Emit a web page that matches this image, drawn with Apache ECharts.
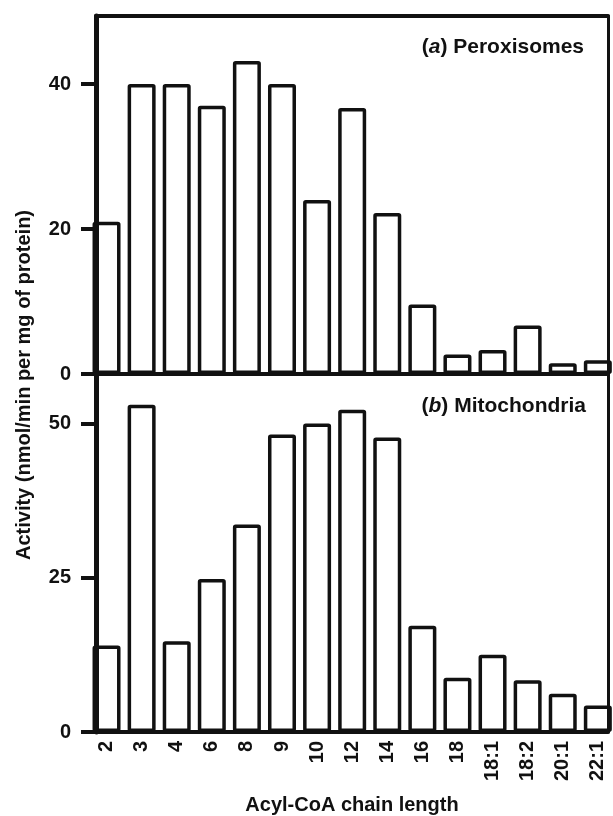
<!DOCTYPE html>
<html>
<head>
<meta charset="utf-8">
<script src="https://cdn.jsdelivr.net/npm/echarts@6/dist/echarts.min.js"></script>
<style>
  html, body { margin: 0; padding: 0; background: #fff; }
  #chart { width: 613px; height: 816px; }
</style>
</head>
<body>
<div id="chart"></div>
<script>
// chain lengths on the x axis
const chainLengths = ["2", "3", "4", "6", "8", "9", "10", "12", "14", "16", "18", "18:1", "18:2", "20:1", "22:1"];

// (a) peroxisomes, nmol/min per mg of protein
const peroxisomes = [21, 40, 40, 37, 43.2, 40, 24, 36.7, 22.2, 9.6, 2.7, 3.3, 6.7, 1.5, 1.9];

// (b) mitochondria, nmol/min per mg of protein
const mitochondria = [14, 53, 14.7, 24.8, 33.6, 48.2, 50, 52.2, 47.7, 17.2, 8.8, 12.5, 8.4, 6.2, 4.3];

const ticksA = [0, 20, 40];
const ticksB = [0, 25, 50];

const FONT = "Liberation Sans";
const INK = "#111";

const chart = echarts.init(document.getElementById("chart"), null, { renderer: "canvas" });

const idx = chainLengths.map((_, i) => i);

// plain line used to close the frame (top / right sides)
function frameAxis(gridIndex, position, isX) {
  return {
    gridIndex: gridIndex,
    position: position,
    type: "value",
    min: isX ? -0.3 : 0,
    max: isX ? 14.29 : 1,
    z: 5,
    axisLine: { show: true, onZero: false, lineStyle: { color: INK, width: isX ? 4 : 3 } },
    axisTick: { show: false },
    axisLabel: { show: false },
    splitLine: { show: false }
  };
}

function panelTitle(letter, name, top, right) {
  return {
    text: "({i|" + letter + "}) " + name,
    right: right,
    top: top,
    textStyle: {
      fontFamily: FONT, fontSize: 21, fontWeight: "bold", color: INK,
      rich: { i: { fontFamily: FONT, fontSize: 21, fontStyle: "italic", fontWeight: "bold", color: INK } }
    }
  };
}

function valueAxis(gridIndex, max, ticks) {
  return {
    gridIndex: gridIndex,
    type: "value",
    min: 0,
    max: max,
    z: 5,
    axisLine: { show: true, onZero: false, lineStyle: { color: INK, width: 5 } },
    axisTick: { show: true, customValues: ticks, length: 15, lineStyle: { color: INK, width: 4 } },
    axisLabel: {
      customValues: ticks,
      margin: 25,
      fontFamily: FONT, fontSize: 20, fontWeight: "bold", color: INK
    },
    splitLine: { show: false }
  };
}

const option = {
  backgroundColor: "#fff",
  animation: false,
  textStyle: { fontFamily: FONT, color: INK },
  title: [
    panelTitle("a", "Peroxisomes", 32, 24),
    panelTitle("b", "Mitochondria", 391, 22)
  ],
  graphic: [
    {
      type: "text",
      x: 24,
      y: 385,
      rotation: Math.PI / 2,
      style: {
        text: "Activity (nmol/min per mg of protein)",
        font: "bold 20px " + FONT,
        fill: INK,
        align: "center",
        verticalAlign: "middle"
      }
    }
  ],
  grid: [
    { left: 96, right: 5, top: 16, height: 358 },
    { left: 96, right: 5, top: 374, height: 360 }
  ],
  xAxis: [
    {
      gridIndex: 0,
      type: "value",
      min: -0.3,
      max: 14.29,
      z: 5,
      axisLine: { show: true, onZero: false, lineStyle: { color: INK, width: 4 } },
      axisTick: { show: false },
      axisLabel: { show: false },
      splitLine: { show: false }
    },
    frameAxis(0, "top", true),
    {
      gridIndex: 1,
      type: "value",
      min: -0.3,
      max: 14.29,
      z: 5,
      name: "Acyl-CoA chain length",
      nameLocation: "middle",
      nameGap: 63,
      nameTextStyle: { fontFamily: FONT, fontSize: 20, fontWeight: "bold", color: INK },
      axisLine: { show: true, onZero: false, lineStyle: { color: INK, width: 4 } },
      axisTick: { show: false },
      axisLabel: {
        customValues: idx,
        formatter: (v) => chainLengths[Math.round(v)],
        rotate: 90,
        margin: 9,
        fontFamily: FONT,
        fontSize: 20,
        fontWeight: "bold",
        color: INK
      },
      splitLine: { show: false }
    }
  ],
  yAxis: [
    valueAxis(0, 49.4, ticksA),
    frameAxis(0, "right", false),
    valueAxis(1, 58, ticksB),
    frameAxis(1, "right", false)
  ],
  series: [
    {
      name: "Peroxisomes",
      type: "bar",
      xAxisIndex: 0,
      yAxisIndex: 0,
      barWidth: 28,
      clip: true,
      itemStyle: { color: "#fff", borderColor: INK, borderWidth: 3.5, borderRadius: 1 },
      data: peroxisomes.map((v, i) => [i, v])
    },
    {
      name: "Mitochondria",
      type: "bar",
      xAxisIndex: 2,
      yAxisIndex: 2,
      barWidth: 28,
      clip: true,
      itemStyle: { color: "#fff", borderColor: INK, borderWidth: 3.5, borderRadius: 1 },
      data: mitochondria.map((v, i) => [i, v])
    }
  ]
};

chart.setOption(option);
</script>
</body>
</html>
